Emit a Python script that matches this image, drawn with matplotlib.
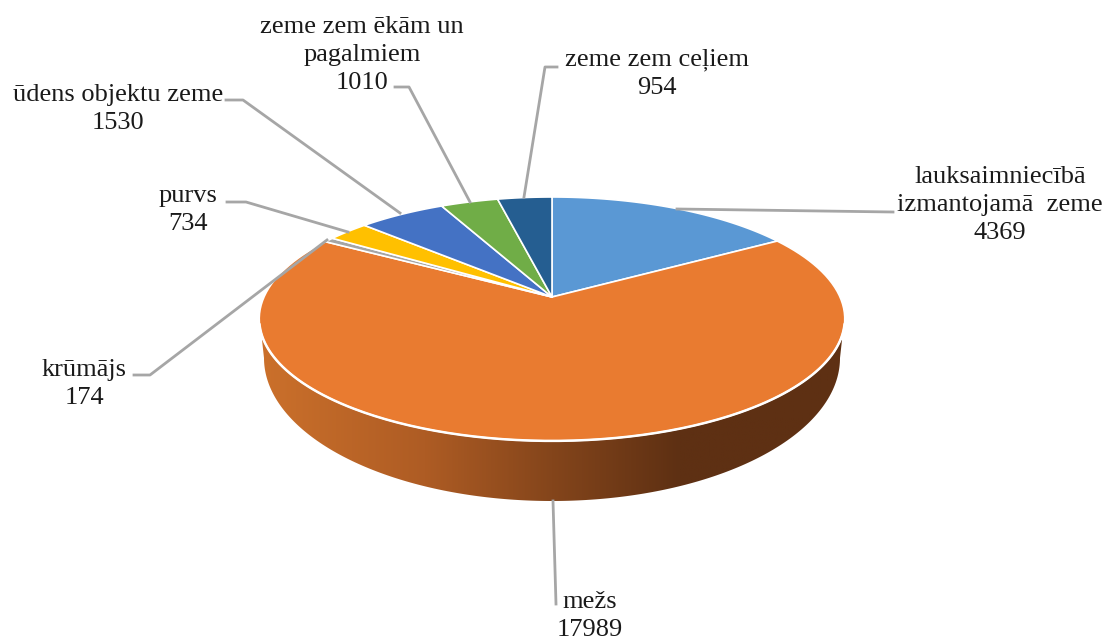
import numpy as np
import matplotlib.pyplot as plt
from matplotlib.colors import LinearSegmentedColormap
from matplotlib.patches import Polygon

# data, clockwise from 12 o'clock
labels = ['lauksaimniecībā\nizmantojamā  zeme', 'mežs', 'krūmājs', 'purvs',
          'ūdens objektu zeme', 'zeme zem ēkām un\npagalmiem', 'zeme zem ceļiem']
values = [4369, 17989, 174, 734, 1530, 1010, 954]
colors = ['#5A98D4', '#E97B30', '#A5A5A5', '#FFC000', '#4472C4', '#70AD47', '#255E91']

# label centre (px) and leader line (px)
label_pos = [(1000, 205), (590, 616), (84, 384), (188, 210), (118, 109), (362, 55), (657, 74)]
leaders = [[(677, 209), (893, 212)],
           [(553, 501), (556, 604)],
           [(327, 240), (150, 375), (134, 375)],
           [(348, 232), (246, 202), (227, 202)],
           [(400, 213), (243, 100), (226, 100)],
           [(470, 202), (409, 87), (395, 87)],
           [(524, 197), (545, 67), (557, 67)]]

plt.rcParams['font.family'] = ['Liberation Serif', 'DejaVu Serif']
leader_color = '#A6A6A6'

# top of the pie seen in perspective
cx, cy = 552, 297
a, b, k = 288, 118, 0.18


def project(theta):
    u = np.sin(theta)
    v = np.cos(theta)
    w = 1 + k * v
    return cx + a * u / w, cy - b * v / w


fig = plt.figure(figsize=(11.05, 6.4), dpi=100)
ax = fig.add_axes([0, 0, 1, 1])

# side wall, only the forest slice shows at the front
t = np.linspace(np.pi, 2 * np.pi, 200)
wall_x = 552 + 288 * np.cos(t)
wall_y = 358 - 143 * np.sin(t)
wall = np.column_stack([np.r_[262, wall_x, 842], np.r_[340, wall_y, 340]])
wall_patch = Polygon(wall, closed=True, facecolor='none', edgecolor='none')
ax.add_patch(wall_patch)
cmap = LinearSegmentedColormap.from_list('wall', [(0, '#CB702B'), (0.28, '#AE5C24'), (0.5, '#84451B'),
                                                  (0.72, '#5E3013'), (1, '#5E3013')])
im = ax.imshow(np.linspace(0, 1, 256).reshape(1, -1), cmap=cmap, aspect='auto',
               extent=(262, 842, 510, 330), zorder=1)
im.set_clip_path(wall_patch)

# top slices
edges = np.r_[0, np.cumsum(values)] / np.sum(values) * 2 * np.pi
for i in range(len(values)):
    th = np.linspace(edges[i], edges[i + 1], 120)
    x, y = project(th)
    pts = np.column_stack([np.r_[cx, x], np.r_[cy, y]])
    ax.add_patch(Polygon(pts, closed=True, facecolor=colors[i], edgecolor='white', lw=1.2,
                         joinstyle='round', zorder=2))

# white rim in front
th = np.linspace(np.radians(103), np.radians(257), 200)
x, y = project(th)
ax.plot(x, y, color='white', lw=1.8, zorder=3)

for pts in leaders:
    ax.plot([p[0] for p in pts], [p[1] for p in pts], color=leader_color, lw=2, zorder=3.5)

for i in range(len(values)):
    ax.text(label_pos[i][0], label_pos[i][1], labels[i] + '\n' + str(values[i]), ha='center', va='center',
            fontsize=19, linespacing=1.33, color='#1A1A1A', zorder=4)

ax.set_xlim(0, 1105)
ax.set_ylim(640, 0)
ax.axis('off')
fig.savefig('out.png', dpi=100, facecolor='white')
